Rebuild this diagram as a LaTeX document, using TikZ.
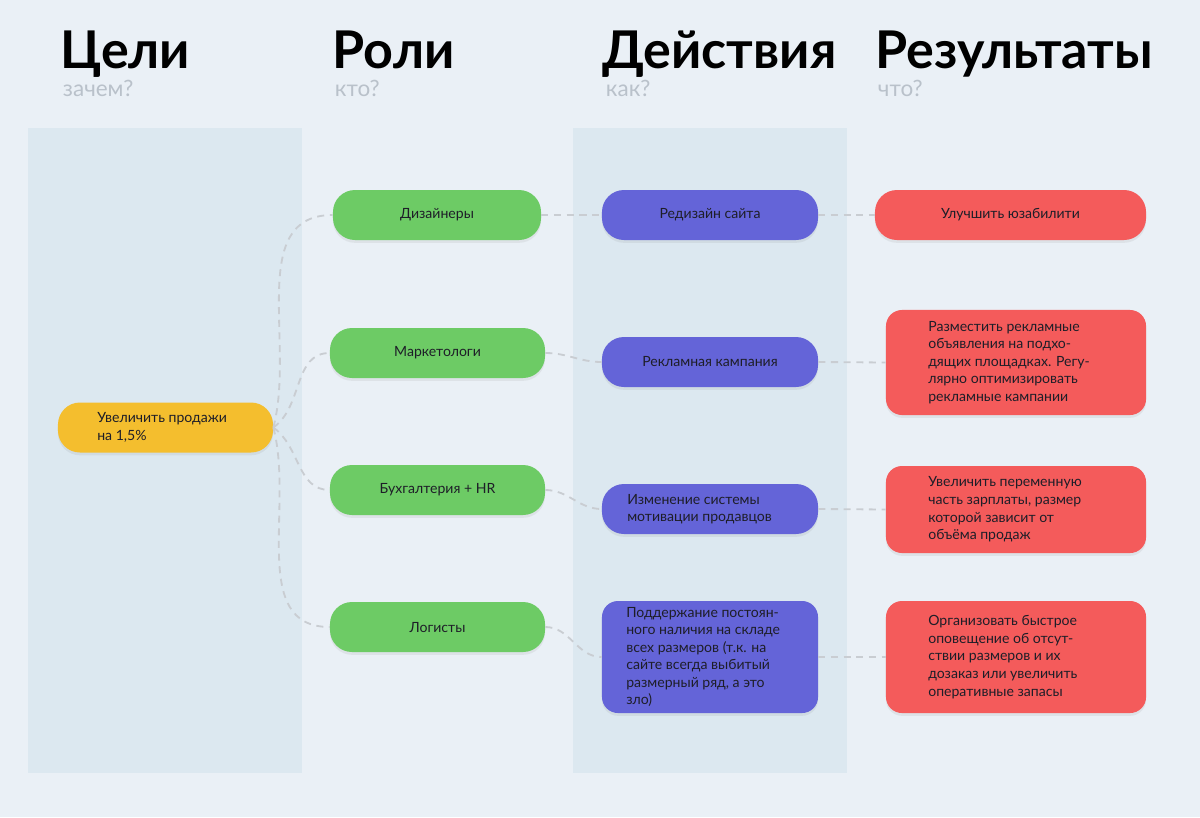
\documentclass[tikz,border=0pt]{standalone}
\usepackage{fontspec}
\setmainfont{Lato}
\usetikzlibrary{shadows}
\definecolor{bg}{HTML}{EAF0F6}
\definecolor{col}{HTML}{DCE8F0}
\definecolor{cy}{HTML}{F4BE2E}
\definecolor{cg}{HTML}{6DCB65}
\definecolor{cp}{HTML}{6464D8}
\definecolor{cr}{HTML}{F45B5B}
\definecolor{sub}{HTML}{B9C1CA}
\definecolor{ln}{HTML}{C9CDD2}
\definecolor{tx}{HTML}{1E1E28}
\tikzset{
 box/.style={rounded corners=0.55cm,minimum height=1.25cm,font=\fontsize{10}{12.5}\selectfont,text=tx,
   drop shadow={opacity=0.12,shadow xshift=0pt,shadow yshift=-2pt}},
 tall/.style={rounded corners=0.4cm},
 ttl/.style={anchor=base west,font=\fontsize{37}{40}\selectfont\bfseries,text=black},
 subt/.style={anchor=base west,font=\fontsize{16}{18}\selectfont,text=sub},
 con/.style={draw=ln,line width=1.3pt,dash pattern=on 5pt off 4pt},
 lt/.style={align=left,inner xsep=0pt}
}
\begin{document}
\begin{tikzpicture}[x=0.025cm,y=-0.025cm]
\fill[bg] (0,0) rectangle (1200,817);
\useasboundingbox (0,0) rectangle (1200,817);
\fill[col] (28,128) rectangle (302,773);
\fill[col] (573,128) rectangle (847,773);
\node[ttl] (t1) at (56,68) {Цели};
\node[ttl] (t2) at (328,68) {Роли};
\node[ttl] (t3) at (598,68) {Действия};
\node[ttl] (t4) at (871,68) {Результаты};
\node[subt] (s1) at (58,96) {зачем?};
\node[subt] (s2) at (330,96) {кто?};
\node[subt] (s3) at (601,96) {как?};
\node[subt] (s4) at (873,96) {что?};
% nodes
\node[box,fill=cy,minimum width=5.375cm] (Y) at (165.5,427.5) {};
\node[lt,anchor=west,font=\fontsize{10}{12.5}\selectfont,text=tx] (Yt) at (97,427.5) {Увеличить продажи\\на 1,5\%};
\node[box,fill=cg,minimum width=5.2cm] (G1) at (437,215) {Дизайнеры};
\node[box,fill=cg,minimum width=5.375cm] (G2) at (437.5,353) {Маркетологи};
\node[box,fill=cg,minimum width=5.375cm] (G3) at (437.5,490) {Бухгалтерия + HR};
\node[box,fill=cg,minimum width=5.375cm] (G4) at (437.5,627) {Логисты};
\node[box,fill=cp,minimum width=5.4cm] (P1) at (710,215) {Редизайн сайта};
\node[box,fill=cp,minimum width=5.4cm] (P2) at (710,362) {Рекламная кампания};
\node[box,fill=cp,minimum width=5.4cm] (P3) at (710,509) {};
\node[box,tall,fill=cp,minimum width=5.4cm,minimum height=2.8cm] (P4) at (710,657) {};
\node[box,fill=cr,minimum width=6.775cm] (R1) at (1010.5,215) {Улучшить юзабилити};
\node[box,tall,fill=cr,minimum width=6.5cm,minimum height=2.625cm] (R2) at (1016,362.5) {};
\node[box,tall,fill=cr,minimum width=6.5cm,minimum height=2.175cm] (R3) at (1016,509.5) {};
\node[box,tall,fill=cr,minimum width=6.5cm,minimum height=2.8cm] (R4) at (1016,657) {};
\tikzset{bt/.style={lt,anchor=west,font=\fontsize{10}{12.5}\selectfont,text=tx}}
\node[bt] (P3t) at (627,509) {Изменение системы\\мотивации продавцов};
\node[bt] (P4t) at (626,657) {Поддержание постоян-\\ного наличия на складе\\всех размеров (т.к. на\\сайте всегда выбитый\\размерный ряд, а это\\зло)};
\node[bt] (R2t) at (928,362.5) {Разместить рекламные\\объявления на подхо-\\дящих площадках. Регу-\\лярно оптимизировать\\рекламные кампании};
\node[bt] (R3t) at (928,509.5) {Увеличить переменную\\часть зарплаты, размер\\которой зависит от\\объёма продаж};
\node[bt] (R4t) at (928,657) {Организовать быстрое\\оповещение об отсут-\\ствии размеров и их\\дозаказ или увеличить\\оперативные запасы};
% connectors
\begin{scope}[on background layer/.try]
\end{scope}
\draw[con] (Y.east) to[out=75,in=180] (G1.west);
\draw[con] (Y.east) to[out=35,in=180] (G2.west);
\draw[con] (Y.east) to[out=-35,in=180] (G3.west);
\draw[con] (Y.east) to[out=-75,in=180] (G4.west);
\draw[con] (G1.east) to[out=0,in=180] (P1.west);
\draw[con] (G2.east) to[out=0,in=180] (P2.west);
\draw[con] (G3.east) to[out=0,in=180] (P3.west);
\draw[con] (G4.east) to[out=0,in=180] (P4.west);
\draw[con] (P1.east) -- (R1.west);
\draw[con] (P2.east) -- (R2.west);
\draw[con] (P3.east) -- (R3.west);
\draw[con] (P4.east) -- (R4.west);
\end{tikzpicture}
\end{document}
